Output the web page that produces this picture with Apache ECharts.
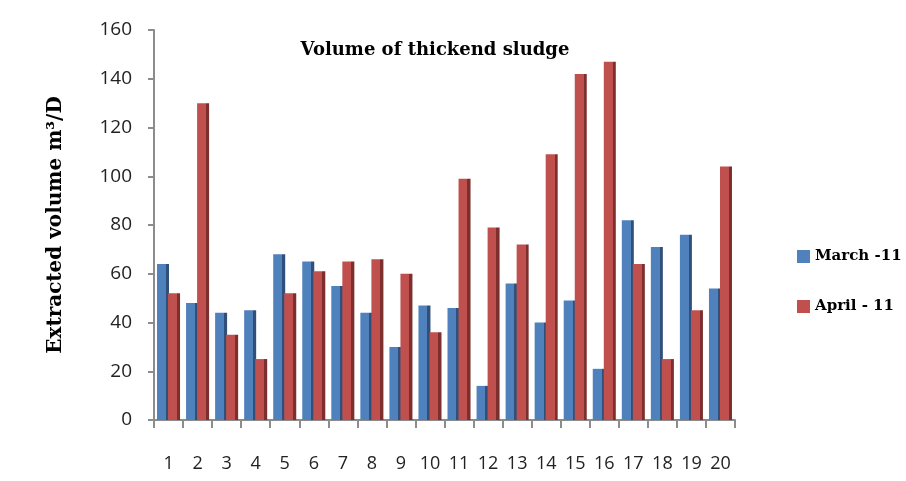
<!DOCTYPE html>
<html>
<head>
<meta charset="utf-8">
<script src="https://cdn.jsdelivr.net/npm/echarts@6/dist/echarts.min.js"></script>
<style>
  html, body { margin: 0; padding: 0; background: #fff; }
  #chart { width: 906px; height: 481px; }
</style>
</head>
<body>
<div id="chart"></div>
<script>
const days = ['1', '2', '3', '4', '5', '6', '7', '8', '9', '10',
  '11', '12', '13', '14', '15', '16', '17', '18', '19', '20']
const march11 = [64, 48, 44, 45, 68, 65, 55, 44, 30, 47, 46, 14, 56, 40, 49, 21, 82, 71, 76, 54]
const april11 = [52, 130, 35, 25, 52, 61, 65, 66, 60, 36, 99, 79, 72, 109, 142, 147, 64, 25, 45, 104]

// fake 3d side face with a hard-stop gradient
const face = (front, side) => new echarts.graphic.LinearGradient(0, 0, 1, 0, [
  { offset: 0, color: front },
  { offset: 0.74, color: front },
  { offset: 0.74, color: side },
  { offset: 1, color: side },
])

const chart = echarts.init(document.getElementById('chart'))
chart.setOption({
  backgroundColor: '#fff',
  animation: false,
  title: {
    text: 'Volume of thickend sludge',
    left: 430,
    top: 36,
    textAlign: 'center',
    textStyle: {
      fontFamily: 'DejaVu Serif',
      fontWeight: 'bold',
      fontSize: 18,
      color: '#000',
    },
  },
  legend: {
    orient: 'vertical',
    left: 792,
    top: 244,
    itemWidth: 13,
    itemHeight: 13,
    itemGap: 35,
    icon: 'rect',
    textStyle: {
      fontFamily: 'DejaVu Serif',
      fontWeight: 'bold',
      fontSize: 15,
      color: '#000',
    },
    data: [
      { name: 'March -11', itemStyle: { color: '#4f81bd' } },
      { name: 'April - 11', itemStyle: { color: '#c0504d' } },
    ],
  },
  grid: { left: 154, right: 171, top: 30, bottom: 61 },
  xAxis: {
    type: 'category',
    data: days,
    axisLine: { lineStyle: { color: '#8c8c8c', width: 2 } },
    axisTick: { show: true, length: 8, lineStyle: { color: '#8c8c8c', width: 2 } },
    axisLabel: {
      margin: 35,
      fontFamily: 'Open Sans',
      fontSize: 18,
      color: '#222',
    },
  },
  yAxis: {
    type: 'value',
    min: 0,
    max: 160,
    interval: 20,
    name: 'Extracted volume m³/D',
    nameLocation: 'middle',
    nameGap: 88,
    nameTextStyle: {
      fontFamily: 'DejaVu Serif',
      fontWeight: 'bold',
      fontSize: 20,
      color: '#000',
    },
    axisLine: { show: true, lineStyle: { color: '#8c8c8c', width: 2 } },
    axisTick: { show: true, length: 6, lineStyle: { color: '#8c8c8c', width: 2 } },
    splitLine: { show: false },
    axisLabel: {
      margin: 22,
      fontFamily: 'Open Sans',
      fontSize: 19,
      color: '#222',
    },
  },
  series: [
    {
      name: 'March -11',
      type: 'bar',
      data: march11,
      barWidth: 12,
      barGap: '-8%',
      itemStyle: { color: face('#4f81bd', '#30507a') },
    },
    {
      name: 'April - 11',
      type: 'bar',
      data: april11,
      barWidth: 12,
      itemStyle: { color: face('#c0504d', '#7d2f2d') },
    },
  ],
})
</script>
</body>
</html>
